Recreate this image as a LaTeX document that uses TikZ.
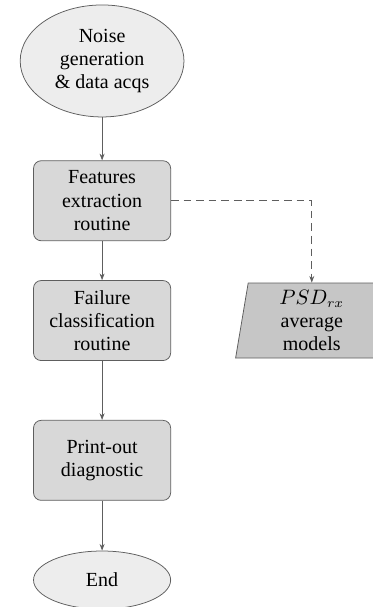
\documentclass[tikz,border=0pt]{standalone}
\usepackage{fontspec}
\setmainfont{Liberation Serif}
\usepackage{tikz}
\usetikzlibrary{positioning,shapes.geometric,arrows.meta}
\definecolor{termfill}{HTML}{EDEDED}
\definecolor{procfill}{HTML}{D8D8D8}
\definecolor{datafill}{HTML}{C6C6C6}
\definecolor{edgecol}{HTML}{5E5E5E}

\begin{document}
\begin{tikzpicture}[
    font=\fontsize{10.5}{12.2}\selectfont,
    terminal/.style={draw=edgecol, fill=termfill, ellipse, align=center, inner sep=0pt},
    process/.style={draw=edgecol, fill=procfill, rectangle, rounded corners=4pt, align=center,
        minimum width=72pt, minimum height=42pt, inner sep=1pt},
    dataio/.style={draw=edgecol, fill=datafill, trapezium, trapezium left angle=79,
        trapezium right angle=101, trapezium stretches body, align=center,
        minimum width=80pt, minimum height=39.4pt, inner sep=1pt},
    flow/.style={draw=edgecol, -{Stealth[length=3.5pt,width=2.6pt]}},
    ]
    \useasboundingbox (0,0) rectangle (195.8pt,-318.7pt);
    \node[terminal, minimum width=86pt, minimum height=58.8pt] (start) at (53.6pt,-32pt) {Noise\\generation\\\& data acqs};
    \node[process, below=22.6pt of start] (feat) {Features\\extraction\\routine};
    \node[process, below=20.5pt of feat] (fail) {Failure\\classification\\routine};
    \node[process, below=31pt of fail] (print) {Print-out\\diagnostic};
    \node[terminal, minimum width=72pt, minimum height=30.5pt, below=26.2pt of print] (stop) {End};
    \node[dataio, right=37pt of fail] (psd) {$PSD_{rx}$\\average\\models};

    \draw[flow] (start) to (feat);
    \draw[flow] (feat) to (fail);
    \draw[flow] (fail) to (print);
    \draw[flow] (print) to (stop);
    \draw[flow, dash pattern=on 4pt off 2.6pt] (feat.east) -| (psd.north);
\end{tikzpicture}
\end{document}
